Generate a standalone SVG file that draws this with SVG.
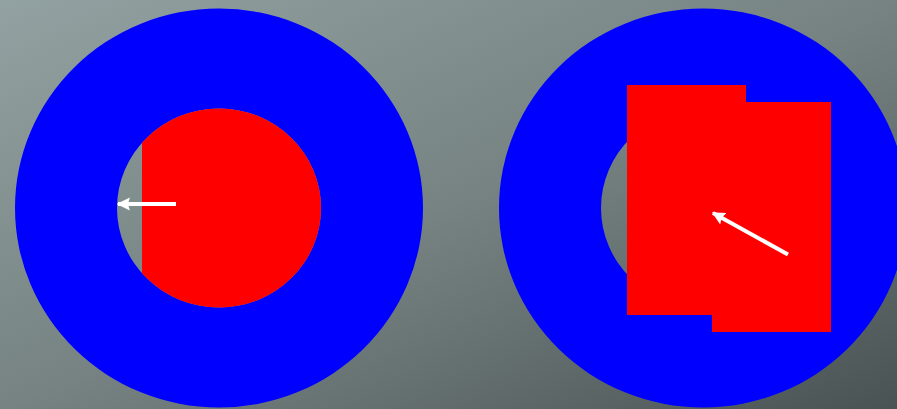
<svg xmlns="http://www.w3.org/2000/svg" width="897" height="409" viewBox="0 0 897 409">
  <defs>
    <linearGradient id="bg" x1="0" y1="0" x2="1" y2="1">
      <stop offset="0" stop-color="#92a1a1"/>
      <stop offset="0.5" stop-color="#778383"/>
      <stop offset="1" stop-color="#4a5353"/>
    </linearGradient>
    <clipPath id="clipL">
      <rect x="142" y="0" width="300" height="409"/>
    </clipPath>
    <marker id="ah" viewBox="0 0 10 10" refX="9" refY="5" markerWidth="3.3" markerHeight="3.3" orient="auto" markerUnits="strokeWidth">
      <path d="M0,0 L10,5 L0,10 L1.5,5 z" fill="#fff"/>
    </marker>
    <style>
      .ring { fill: #0000ff; fill-rule: evenodd; }
      .red { fill: #ff0000; }
      .arrow { stroke: #fff; stroke-width: 4; fill: none; marker-end: url(#ah); }
    </style>
  </defs>
  <rect width="897" height="409" fill="url(#bg)"/>
  <g id="left">
    <path class="ring" d="M15,208 a204,199.5 0 1,0 408,0 a204,199.5 0 1,0 -408,0 z M117,208 a102,99.5 0 1,0 204,0 a102,99.5 0 1,0 -204,0 z"/>
    <ellipse class="red" cx="219" cy="208" rx="102" ry="99.5" clip-path="url(#clipL)"/>
  </g>
  <g id="right">
    <path class="ring" d="M499,208 a204,199.5 0 1,0 408,0 a204,199.5 0 1,0 -408,0 z M601,208 a102,99.5 0 1,0 204,0 a102,99.5 0 1,0 -204,0 z"/>
    <rect class="red" x="627" y="85" width="119" height="230"/>
    <rect class="red" x="712" y="102" width="119" height="230"/>
  </g>
  <g id="connectors">
    <line class="arrow" x1="176" y1="204" x2="118" y2="204"/>
    <line class="arrow" x1="788" y1="254.5" x2="713" y2="213"/>
  </g>
</svg>
